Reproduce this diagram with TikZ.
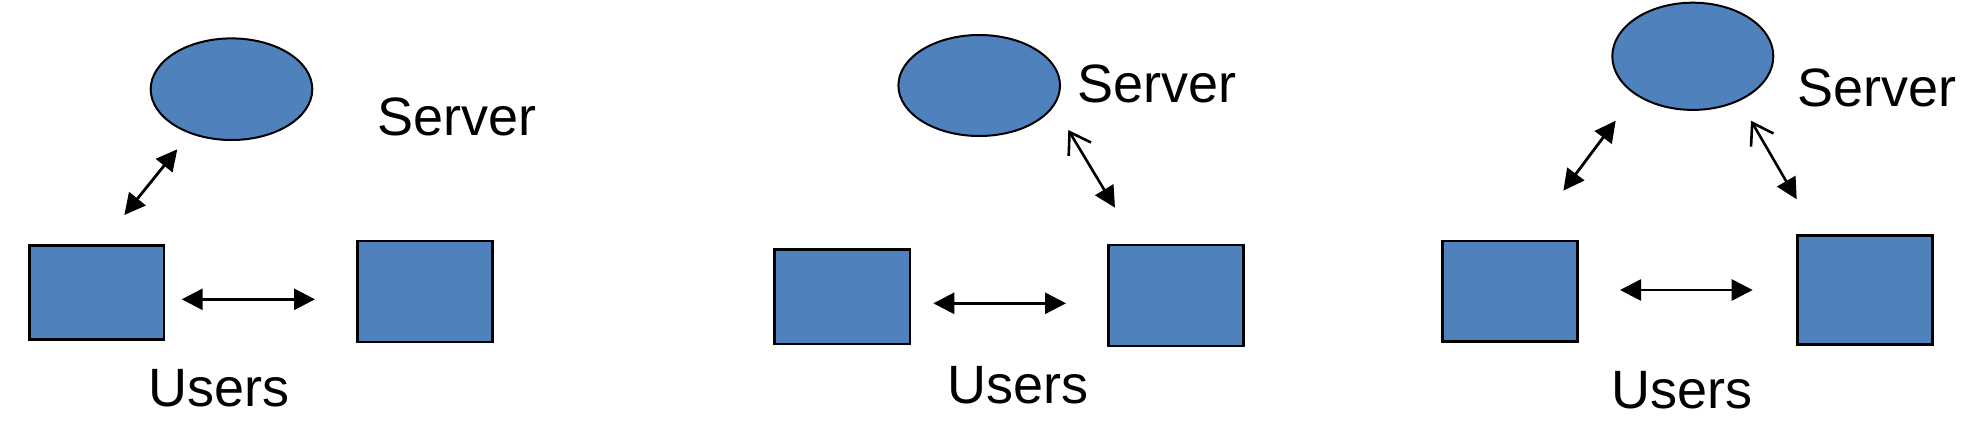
\documentclass[tikz,border=0pt]{standalone}
\usepackage{fontspec}
\setmainfont{Liberation Sans}
\usetikzlibrary{arrows.meta,shapes.geometric}
\definecolor{boxblue}{RGB}{79,129,189}
\tikzset{
  srv/.style={ellipse, draw=black, line width=1pt, fill=boxblue, inner sep=0pt},
  usr/.style={rectangle, draw=black, line width=1.3pt, fill=boxblue, inner sep=0pt},
  lbl/.style={anchor=base west, inner sep=0pt, font=\fontsize{27pt}{32pt}\selectfont},
  bothfill/.style={line width=1.4pt, {Triangle[length=10.5pt,width=10.5pt]}-{Triangle[length=10.5pt,width=10.5pt]}},
  openfill/.style={line width=1.3pt, {Straight Barb[length=10pt,width=13pt]}-{Triangle[length=10.5pt,width=10.5pt]}}
}
\begin{document}
\begin{tikzpicture}[x=0.5pt,y=-0.5pt]
\useasboundingbox (0,0) rectangle (1973,428);
% ---------- Panel 1 ----------
\node[srv, minimum width=80.8pt, minimum height=50.8pt] (s1) at (231.5,89.2) {};
\node[usr, minimum width=67.3pt, minimum height=46.8pt] (u1a) at (96.7,292.5) {};
\node[usr, minimum width=67.5pt, minimum height=50.5pt] (u1b) at (424.8,291.5) {};
\node[lbl] (t1s) at (377,135) {Server};
\node[lbl] (t1u) at (148,406) {Users};
\coordinate (h1a) at (181.7,299.3);
\coordinate (h1b) at (315,299.3);
\coordinate (d1a) at (124.3,215);
\coordinate (d1b) at (177.3,149.3);
\draw[bothfill] (h1a) -- (h1b);
\draw[bothfill] (d1a) -- (d1b);
% ---------- Panel 2 ----------
\node[srv, minimum width=80.8pt, minimum height=50.5pt] (s2) at (979.2,85.5) {};
\node[usr, minimum width=67.8pt, minimum height=47.3pt] (u2a) at (842.2,296.7) {};
\node[usr, minimum width=67.5pt, minimum height=50.5pt] (u2b) at (1175.8,295.5) {};
\node[lbl] (t2s) at (1077,102.7) {Server};
\node[lbl] (t2u) at (947,403.3) {Users};
\coordinate (h2a) at (933.3,303.3);
\coordinate (h2b) at (1066,303.3);
\coordinate (d2a) at (1068.3,130);
\coordinate (d2b) at (1115,207.7);
\draw[bothfill] (h2a) -- (h2b);
\draw[openfill] (d2a) -- (d2b);
% ---------- Panel 3 ----------
\node[srv, minimum width=80.5pt, minimum height=53.6pt] (s3) at (1692.8,56.3) {};
\node[usr, minimum width=67.7pt, minimum height=50.3pt] (u3a) at (1510,291.3) {};
\node[usr, minimum width=67.5pt, minimum height=54.3pt] (u3b) at (1865.2,290) {};
\node[lbl] (t3s) at (1797,106) {Server};
\node[lbl] (t3u) at (1611,408.3) {Users};
\coordinate (h3a) at (1620,290);
\coordinate (h3b) at (1752.7,290);
\coordinate (d3a) at (1563.3,190.7);
\coordinate (d3b) at (1615.7,120.7);
\coordinate (e3a) at (1751,120.7);
\coordinate (e3b) at (1796.7,199.3);
\draw[bothfill] (h3a) -- (h3b);
\draw[bothfill] (d3a) -- (d3b);
\draw[openfill] (e3a) -- (e3b);
\end{tikzpicture}
\end{document}
